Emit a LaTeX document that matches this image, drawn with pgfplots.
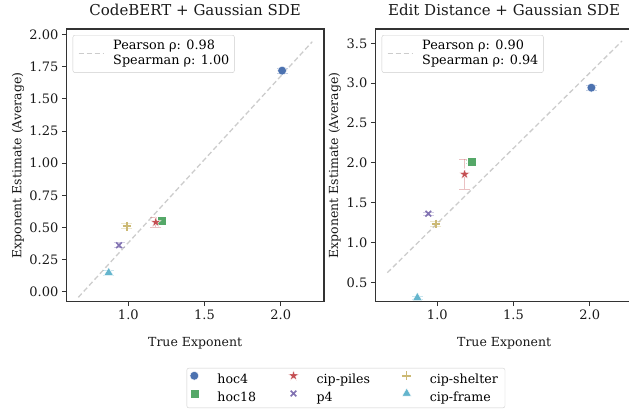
\documentclass[border=0pt]{standalone}
\usepackage{fontspec}
\setmainfont{DejaVu Serif}
\usepackage{pgfplots}
\pgfplotsset{compat=1.18}

\definecolor{cblue}{HTML}{4C72B0}
\definecolor{cgreen}{HTML}{55A868}
\definecolor{cred}{HTML}{C44E52}
\definecolor{cpurple}{HTML}{8172B2}
\definecolor{cyellow}{HTML}{CCB974}
\definecolor{ccyan}{HTML}{64B5CD}

% filled five-pointed star
\pgfdeclareplotmark{fstar}{%
  \pgfpathmoveto{\pgfpointpolar{90}{\pgfplotmarksize}}%
  \foreach \a in {1,...,4}{%
    \pgfpathlineto{\pgfpointpolar{90+72*\a-36}{0.382\pgfplotmarksize}}%
    \pgfpathlineto{\pgfpointpolar{90+72*\a}{\pgfplotmarksize}}}%
  \pgfpathlineto{\pgfpointpolar{90+324}{0.382\pgfplotmarksize}}%
  \pgfpathclose
  \pgfusepathqfillstroke}

\newcommand{\tk}{\fontsize{13}{15.6}\selectfont}
\newcommand{\lgf}{\fontsize{12.8}{15.7}\selectfont}
\tikzset{fitline/.style={color=black!20, dash pattern=on 5pt off 3pt, line width=1.3pt}}

% small correlation box in the top left corner of a panel
\newcommand{\corrbox}[2]{%
  \node[draw=black!20, rounded corners=2pt, fill=white, anchor=north west,
        inner xsep=5pt, inner ysep=3pt, font=\lgf]
    at (rel axis cs:0.025,0.978)
    {\tikz[baseline=-3.5pt]\draw[fitline] (0pt,0pt) -- (25pt,0pt);\hspace{9pt}%
     \begin{tabular}{@{}l@{}}Pearson ρ: #1\\Spearman ρ: #2\end{tabular}};}

\pgfplotsset{
  panel/.style={
    scale only axis, width=257.7pt, height=272.7pt,
    xmin=0.593, xmax=2.284,
    xtick={1,1.5,2},
    axis lines=box,
    axis line style={black!80, line width=1.2pt},
    tick style={black!80, line width=1pt},
    major tick length=4.4pt,
    tick align=outside, tick pos=left,
    /pgf/number format/assume math mode=true,
    tick label style={font=\tk, black!90},
    label style={font=\fontsize{12.5}{15}\selectfont, black!90},
    title style={font=\fontsize{15}{18}\selectfont, black!90, at={(axis description cs:0.5,1.048)}, anchor=center},
    xlabel style={at={(axis description cs:0.5,-0.1515)}, anchor=center},
    xticklabel={\pgfmathprintnumber[fixed, fixed zerofill, precision=1]{\tick}},
    xlabel={True Exponent},
    ylabel={Exponent Estimate (Average)},
  },
  ebar/.style={error bars/.cd, y dir=both, y explicit,
    error bar style={#1, opacity=0.35, line width=1pt, solid},
    error mark options={rotate=90, mark size=5.5pt, #1, opacity=0.35, line width=1pt, solid}},
  sblue/.style={only marks, mark=*, mark size=4.4pt, color=cblue, mark options={draw=white, line width=0.4pt}},
  sgreen/.style={only marks, mark=square*, mark size=4.5pt, color=cgreen, mark options={draw=white, line width=0.4pt}},
  sred/.style={only marks, mark=fstar, mark size=5.6pt, color=cred, mark options={draw=white, line width=0.4pt}},
  spurple/.style={only marks, mark=x, mark size=4pt, color=cpurple, mark options={line width=1.6pt}},
  syellow/.style={only marks, mark=+, mark size=4.3pt, color=cyellow, mark options={line width=1.6pt}},
  scyan/.style={only marks, mark=triangle*, mark size=5.3pt, color=ccyan, mark options={draw=white, line width=0.4pt}},
}

\begin{document}
\begin{tikzpicture}
% left panel: CodeBERT
\begin{axis}[panel, name=L, at={(66.3pt,-301.7pt)}, anchor=south west,
  title={CodeBERT + Gaussian SDE},
  ymin=-0.078, ymax=2.044,
  ytick={0,0.25,...,2.0},
  ylabel style={at={(axis description cs:-0.1874,0.5)}, anchor=center},
  yticklabel={\pgfmathprintnumber[fixed, fixed zerofill, precision=2]{\tick}},
]
  \addplot[fitline] coordinates {(0.672,-0.044) (2.207,1.945)};
  \addplot[sblue, ebar=cblue] coordinates {(2.009,1.720) +- (0,0.02)};
  \addplot[sgreen, ebar=cgreen] coordinates {(1.219,0.556) +- (0,0.01)};
  \addplot[sred, ebar=cred] coordinates {(1.180,0.540) +- (0,0.04)};
  \addplot[spurple, ebar=cpurple] coordinates {(0.939,0.361) +- (0,0.02)};
  \addplot[syellow, ebar=cyellow] coordinates {(0.990,0.509) +- (0,0.02)};
  \addplot[scyan, ebar=ccyan] coordinates {(0.871,0.148) +- (0,0.02)};
  \corrbox{0.98}{1.00}
\end{axis}

% right panel: Edit distance
\begin{axis}[panel, name=R, at={(375.3pt,-301.7pt)}, anchor=south west,
  title={Edit Distance + Gaussian SDE},
  ymin=0.256, ymax=3.68,
  ytick={0.5,1.0,...,3.5},
  ylabel style={at={(axis description cs:-0.157,0.5)}, anchor=center},
  yticklabel={\pgfmathprintnumber[fixed, fixed zerofill, precision=1]{\tick}},
]
  \addplot[fitline] coordinates {(0.672,0.620) (2.212,3.529)};
  \addplot[sblue, ebar=cblue] coordinates {(2.011,2.943) +- (0,0.03)};
  \addplot[sgreen, ebar=cgreen] coordinates {(1.223,2.014) +- (0,0.02)};
  \addplot[sred, ebar=cred] coordinates {(1.179,1.856) +- (0,0.19)};
  \addplot[spurple, ebar=cpurple] coordinates {(0.941,1.361) +- (0,0.02)};
  \addplot[syellow, ebar=cyellow] coordinates {(0.991,1.232) +- (0,0.03)};
  \addplot[scyan, ebar=ccyan] coordinates {(0.869,0.307) +- (0,0.02)};
  \corrbox{0.90}{0.94}
\end{axis}

% panel frames
\draw[black!80, line width=1.2pt] (L.south west) rectangle (L.north east);
\draw[black!80, line width=1.2pt] (R.south west) rectangle (R.north east);

% shared legend below both panels
\begin{axis}[at={(66.3pt,-301.7pt)}, anchor=south west,
  scale only axis, width=257.7pt, height=272.7pt, hide axis,
  xmin=0, xmax=1, ymin=0, ymax=1,
  legend columns=3,
  legend cell align=left,
  legend style={at={(axis description cs:1.085,-0.3165)}, anchor=center,
    draw=black!20, rounded corners=2pt, fill=white,
    font=\fontsize{12.6}{15}\selectfont, inner xsep=3pt, inner ysep=2pt,
    nodes={inner xsep=4.2pt, inner ysep=2.85pt},
    /tikz/every even column/.append style={column sep=27.8pt},
    /tikz/every odd column/.append style={column sep=6.2pt}},
  legend image code/.code={\path (-1pt,4pt) (12.5pt,4pt);
    \draw[#1] plot coordinates {(0pt,4pt)};},
]
  \addlegendimage{sblue}
  \addlegendentry{hoc4}
  \addlegendimage{sred}
  \addlegendentry{cip-piles}
  \addlegendimage{syellow}
  \addlegendentry{cip-shelter}
  \addlegendimage{sgreen}
  \addlegendentry{hoc18}
  \addlegendimage{spurple}
  \addlegendentry{p4}
  \addlegendimage{scyan}
  \addlegendentry{cip-frame}
\end{axis}

\pgfresetboundingbox
\useasboundingbox (0pt,0pt) rectangle (629pt,-409pt);
\end{tikzpicture}
\end{document}
